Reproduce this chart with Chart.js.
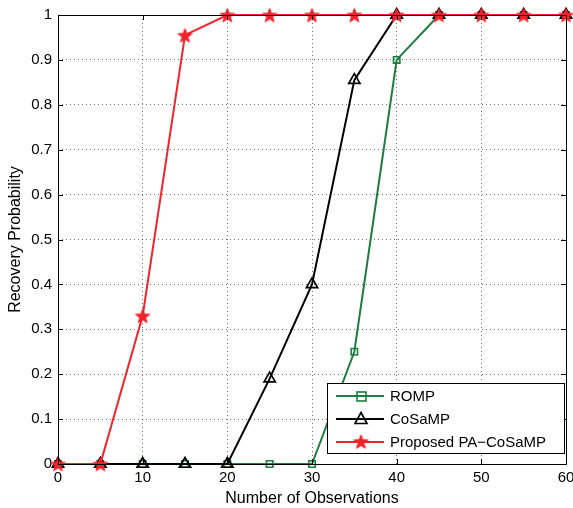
<!DOCTYPE html>
<html>
<head>
<meta charset="utf-8">
<script src="https://cdn.jsdelivr.net/npm/chart.js@4/dist/chart.umd.min.js"></script>
<style>
  html, body { margin: 0; padding: 0; background: #fff; }
  #wrap { width: 573px; height: 508px; }
</style>
</head>
<body>
<div id="wrap"><canvas id="myChart" width="573" height="508"></canvas></div>
<script>
// data
var observations = [0, 5, 10, 15, 20, 25, 30, 35, 40, 45, 50, 55, 60];
var rompValues     = [0, 0, 0, 0, 0, 0, 0, 0.25, 0.90, 1, 1, 1, 1];
var cosampValues   = [0, 0, 0, 0, 0, 0.19, 0.40, 0.855, 1, 1, 1, 1, 1];
var proposedValues = [0, 0, 0.33, 0.955, 1, 1, 1, 1, 1, 1, 1, 1, 1];
var seriesNames = ['ROMP', 'CoSaMP', 'Proposed PA\u2212CoSaMP'];
var xTickValues = [0, 10, 20, 30, 40, 50, 60];
var yTickValues = [0, 0.1, 0.2, 0.3, 0.4, 0.5, 0.6, 0.7, 0.8, 0.9, 1];

var GREEN = '#1b7d3e';
var RED = '#f5222a';
var FONT = "'Liberation Sans', Arial, Helvetica, sans-serif";

// filled five point star used as marker
function makeStar(size) {
    var c = document.createElement('canvas');
    c.width = size; c.height = size;
    var g = c.getContext('2d');
    var cx = size / 2, cy = size / 2 + 0.8, ro = size / 2 - 1, ri = ro * 0.42;
    g.beginPath();
    for (var i = 0; i < 10; i++) {
        var r = i % 2 ? ri : ro;
        var a = -Math.PI / 2 + i * Math.PI / 5;
        g.lineTo(cx + r * Math.cos(a), cy + r * Math.sin(a));
    }
    g.closePath();
    g.fillStyle = RED;
    g.fill();
    g.strokeStyle = RED;
    g.lineWidth = 1;
    g.stroke();
    return c;
}
var star = makeStar(17);

function pts(vals) {
    return observations.map(function (x, i) { return { x: x, y: vals[i] }; });
}

var boxPlugin = {
    id: 'matlabBox',
    // the "60" label may hang past the axes like in matlab, so widen the area back
    afterLayout: function (chart) {
        var a = chart.chartArea, xs = chart.scales.x;
        var r = chart.width - 7;
        a.right = r; a.width = r - a.left;
        xs.right = r; xs.width = r - xs.left;
        xs.configure();
    },
    afterDraw: function (chart) {
        var ctx = chart.ctx, a = chart.chartArea;
        var xs = chart.scales.x, ys = chart.scales.y;
        ctx.save();
        ctx.strokeStyle = '#000';
        ctx.lineWidth = 1;
        ctx.beginPath();
        xTickValues.forEach(function (v) {
            var p = Math.round(xs.getPixelForValue(v)) + 0.5;
            ctx.moveTo(p, a.bottom); ctx.lineTo(p, a.bottom - 5);
            ctx.moveTo(p, a.top); ctx.lineTo(p, a.top + 5);
        });
        yTickValues.forEach(function (v) {
            var p = Math.round(ys.getPixelForValue(v)) + 0.5;
            ctx.moveTo(a.left, p); ctx.lineTo(a.left + 5, p);
            ctx.moveTo(a.right, p); ctx.lineTo(a.right - 5, p);
        });
        ctx.stroke();
        ctx.strokeRect(Math.round(a.left) + 0.5, Math.round(a.top) + 0.5,
            Math.round(a.right - a.left), Math.round(a.bottom - a.top));

        // legend box, lower right inside the axes
        var lx = 327.5, ly = 383.5, lw = 237, lh = 70;
        ctx.fillStyle = '#fff';
        ctx.fillRect(lx, ly, lw, lh);
        ctx.strokeRect(lx, ly, lw, lh);
        ctx.font = '15px ' + FONT;
        ctx.textBaseline = 'middle';
        var rows = [396, 419, 442];
        var cols = [GREEN, '#000', RED];
        rows.forEach(function (y, i) {
            ctx.strokeStyle = cols[i];
            ctx.lineWidth = 2;
            ctx.beginPath();
            ctx.moveTo(336, y); ctx.lineTo(384, y);
            ctx.stroke();
            ctx.lineWidth = 1.6;
            if (i === 0) {
                ctx.strokeRect(357, y - 4, 9, 9);
            } else if (i === 1) {
                ctx.beginPath();
                ctx.moveTo(361, y - 6.5); ctx.lineTo(367, y + 4.5); ctx.lineTo(355, y + 4.5);
                ctx.closePath();
                ctx.stroke();
            } else {
                ctx.drawImage(star, 361 - 8.5, y - 9);
            }
            ctx.fillStyle = '#000';
            ctx.fillText(seriesNames[i], 390, y + 1);
        });
        ctx.restore();
    }
};

var ctx = document.getElementById('myChart').getContext('2d');
var myChart = new Chart(ctx, {
    type: 'line',
    data: {
        // reversed so the proposed curve sits on top
        datasets: [{
            label: seriesNames[2],
            data: pts(proposedValues),
            borderColor: RED,
            backgroundColor: RED,
            borderWidth: 2,
            pointStyle: star,
            clip: false
        }, {
            label: seriesNames[1],
            data: pts(cosampValues),
            borderColor: '#000',
            backgroundColor: 'rgba(0,0,0,0)',
            borderWidth: 2,
            pointStyle: 'triangle',
            pointRadius: 6.5,
            pointBorderWidth: 1.7,
            clip: false
        }, {
            label: seriesNames[0],
            data: pts(rompValues),
            borderColor: GREEN,
            backgroundColor: 'rgba(0,0,0,0)',
            borderWidth: 2,
            pointStyle: 'rect',
            pointRadius: 4.5,
            pointBorderWidth: 1.6,
            clip: false
        }]
    },
    options: {
        responsive: false,
        animation: false,
        devicePixelRatio: 1,
        layout: { padding: { top: 14, right: 5, left: 0, bottom: 0 } },
        plugins: {
            legend: { display: false },
            tooltip: { enabled: false }
        },
        elements: { line: { tension: 0 } },
        scales: {
            x: {
                type: 'linear',
                min: 0, max: 60,
                afterBuildTicks: function (s) { s.ticks = xTickValues.map(function (v) { return { value: v }; }); },
                afterFit: function (s) { s.height = 44; },
                grid: { color: 'rgba(0,0,0,0.55)', drawTicks: false, lineWidth: 1 },
                border: { display: false, dash: [1, 3] },
                ticks: { color: '#000', font: { family: FONT, size: 15 }, padding: 5, maxRotation: 0 },
                title: { display: true, text: 'Number of Observations', color: '#000',
                         font: { family: FONT, size: 16 }, padding: { top: -2, bottom: 0 } }
            },
            y: {
                min: 0, max: 1,
                afterBuildTicks: function (s) { s.ticks = yTickValues.map(function (v) { return { value: v }; }); },
                afterFit: function (s) { s.width = 58; },
                grid: { color: 'rgba(0,0,0,0.55)', drawTicks: false, lineWidth: 1 },
                border: { display: false, dash: [1, 3] },
                ticks: { color: '#000', font: { family: FONT, size: 15 }, padding: 6,
                         callback: function (v) { return String(Math.round(v * 10) / 10); } },
                title: { display: true, text: 'Recovery Probability', color: '#000',
                         font: { family: FONT, size: 16 }, padding: { top: 6, bottom: 0 } }
            }
        }
    },
    plugins: [boxPlugin]
});
</script>
</body>
</html>
